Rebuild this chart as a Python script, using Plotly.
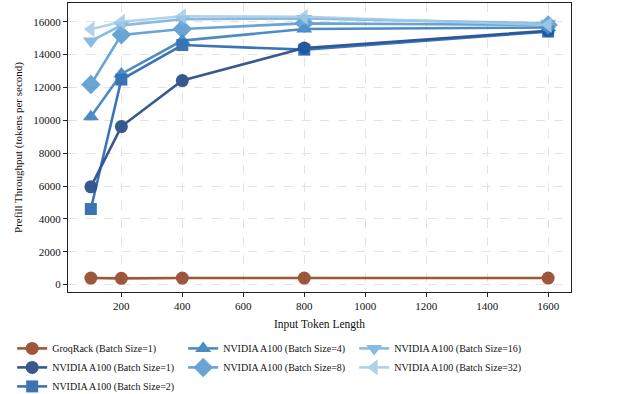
import plotly.graph_objects as go

x_vals = [100, 200, 400, 800, 1600]

groq_bs1 = [400, 380, 400, 400, 400]
a100_bs1 = [5950, 9620, 12420, 14400, 15450]
a100_bs2 = [4600, 12480, 14580, 14300, 15400]
a100_bs4 = [10220, 12820, 14850, 15560, 15650]
a100_bs8 = [12180, 15200, 15560, 15900, 15800]
a100_bs16 = [14820, 15780, 16150, 16200, 15900]
a100_bs32 = [15540, 16000, 16330, 16300, 15800]

series_names = [
    "GroqRack (Batch Size=1)",
    "NVIDIA A100 (Batch Size=1)",
    "NVIDIA A100 (Batch Size=2)",
    "NVIDIA A100 (Batch Size=4)",
    "NVIDIA A100 (Batch Size=8)",
    "NVIDIA A100 (Batch Size=16)",
    "NVIDIA A100 (Batch Size=32)",
]
series_values = [groq_bs1, a100_bs1, a100_bs2, a100_bs4, a100_bs8, a100_bs16, a100_bs32]
colors = ["#8c3a1a", "#163d7a", "#1c5ba6", "#2f77bb", "#4f95cd", "#75b0dd", "#a2cbe6"]
symbols = ["circle", "circle", "square", "triangle-up", "diamond", "triangle-down", "triangle-left"]
marker_sizes = [13, 13, 12, 14, 15, 14, 14]
# column-major legend ordering (3 columns)
ranks = [1, 4, 7, 2, 5, 3, 6]

FONT = "Liberation Serif, Times New Roman, serif"

fig = go.Figure()
for name, vals, c, s, ms, r in zip(series_names, series_values, colors, symbols, marker_sizes, ranks):
    fig.add_trace(go.Scatter(
        x=x_vals, y=vals, name=name, mode="lines+markers",
        line=dict(color=c, width=2.6),
        marker=dict(symbol=s, size=ms, color=c, line=dict(width=0)),
        opacity=0.85,
        legendrank=r,
    ))

axis_common = dict(
    showline=True, linecolor="#222", linewidth=1.3, mirror=True,
    ticks="outside", ticklen=4, tickcolor="#222",
    showgrid=True, gridcolor="#e3e3e3", griddash="dash", gridwidth=1,
    zeroline=False,
    tickfont=dict(family=FONT, size=11, color="#111"),
)

fig.update_xaxes(
    range=[25, 1675], tickvals=[200, 400, 600, 800, 1000, 1200, 1400, 1600],
    tickformat="d",
    title=dict(text="Input Token Length", font=dict(family=FONT, size=11.5, color="#111"), standoff=8),
    **axis_common,
)
fig.update_yaxes(
    range=[-450, 17140], tickvals=list(range(0, 16001, 2000)),
    tickformat="d",
    title=dict(text="Prefill Throughput (tokens per second)", font=dict(family=FONT, size=11, color="#111"), standoff=8),
    **axis_common,
)

fig.update_layout(
    width=621, height=394,
    margin=dict(l=68, r=50, t=3, b=102, autoexpand=False),
    plot_bgcolor="white", paper_bgcolor="white",
    font=dict(family=FONT, size=11, color="#111"),
    legend=dict(
        orientation="h", x=-0.111, y=-0.145, xanchor="left", yanchor="top",
        entrywidth=126, entrywidthmode="pixels",
        font=dict(family=FONT, size=10, color="#111"),
        tracegroupgap=0, itemsizing="trace",
    ),
)

fig.write_html(
    "out.html",
    config={"displayModeBar": False},
    post_script="document.body.style.margin='0';document.body.style.padding='0';",
)
